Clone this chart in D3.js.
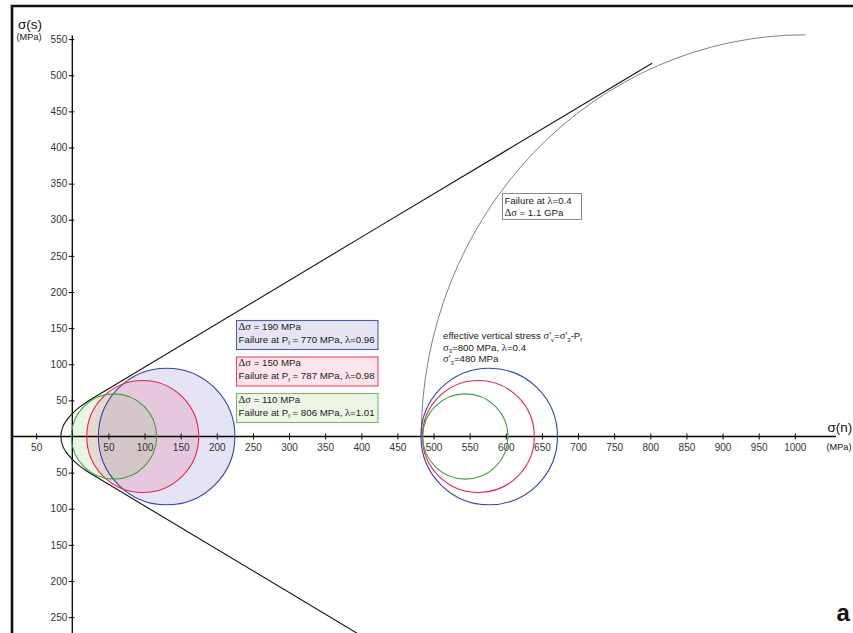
<!DOCTYPE html>
<html>
<head>
<meta charset="utf-8">
<script src="https://cdn.jsdelivr.net/npm/d3@7"></script>
<style>
  body { margin: 0; background: #fff; }
  svg { display: block; font-family: "Liberation Sans", Arial, sans-serif; }
  .greek { font-family: "Liberation Serif", "Times New Roman", serif; }
</style>
</head>
<body>
<div id="chart"></div>
<script>
// Mohr circles (MPa), one entry per stress difference
const deltaSigma = [190, 150, 110];
const failurePf = [770, 787, 806];
const failureLambda = ["0.96", "0.98", "1.01"];
const circleRadius = [94.5, 77.5, 59];
// centres of the circles at failure (left) and at sigma'3 = 480 MPa (right)
const failureCentre = [130.6, 97.5, 57.7];
const effectiveCentre = [577, 562, 544];

// failure envelope: sigma(n), sigma(s) of the upper branch
const envelopeSigma = [-15.9, -13, -8, 0, 10, 20, 28.3, 802.5];
const envelopeTau = [0, 13.6, 22.4, 31.8, 40.6, 47.8, 53.0, 516.6];

// failure circle at lambda = 0.4 (only its upper-left quarter is drawn)
const bigCircleLeft = 483;
const bigCircleCentre = 1015;
const bigCircleTop = 556;

// tick values (labels are shown without sign)
const xTickValues = [-50, 50, 100, 150, 200, 250, 300, 350, 400, 450, 500, 550, 600, 650, 700, 750, 800, 850, 900, 950, 1000];
const yTickValues = [-250, -200, -150, -100, -50, 50, 100, 150, 200, 250, 300, 350, 400, 450, 500, 550];

const strokeColours = ["#3243a6", "#ec2548", "#43a03c"];
const fillColours = ["rgba(95,95,195,0.17)", "rgba(235,40,95,0.15)", "rgba(120,190,90,0.16)"];
const boxFills = ["#e4e4f3", "#fde3ea", "#edf5e6"];
const boxStrokes = ["#4e5db2", "#ea4665", "#7fb46e"];

const width = 853, height = 633;
const originX = 72.3, originY = 436.5, pxPerMPa = 0.7225;

const svg = d3.select("#chart")
    .append("svg")
    .attr("width", width)
    .attr("height", height);

//Equal scales on both axes so the circles stay round
const x = d3.scaleLinear().domain([0, 1000]).range([originX, originX + 1000 * pxPerMPa]);
const y = d3.scaleLinear().domain([0, 500]).range([originY, originY - 500 * pxPerMPa]);
const r = v => v * pxPerMPa;

//Panel frame (only top and left edges are visible)
svg.append("path")
    .attr("d", "M12," + height + "V6H" + width)
    .attr("fill", "none")
    .attr("stroke", "#111")
    .attr("stroke-width", 2.6);

//Circle fills at failure
const idx = d3.range(deltaSigma.length);
svg.selectAll("circle.failFill")
    .data(idx)
    .join("circle")
    .attr("class", "failFill")
    .attr("cx", i => x(failureCentre[i]))
    .attr("cy", y(0))
    .attr("r", i => r(circleRadius[i]))
    .attr("fill", i => fillColours[i])
    .attr("stroke", "none");

//Axes
svg.append("line")
    .attr("x1", 12).attr("x2", 836)
    .attr("y1", y(0)).attr("y2", y(0))
    .attr("stroke", "#000").attr("stroke-width", 1.3);
svg.append("line")
    .attr("x1", x(0)).attr("x2", x(0))
    .attr("y1", y(555)).attr("y2", height)
    .attr("stroke", "#000").attr("stroke-width", 1.3);

const xAxis = svg.append("g")
    .attr("transform", "translate(0," + y(0) + ")")
    .call(d3.axisBottom(x)
        .tickValues(xTickValues)
        .tickFormat(d => Math.abs(d))
        .tickSizeInner(3)
        .tickSizeOuter(0)
        .tickPadding(4));
xAxis.select(".domain").remove();
xAxis.selectAll(".tick line").attr("y1", -3).attr("stroke", "#000");

const yAxis = svg.append("g")
    .attr("transform", "translate(" + x(0) + ",0)")
    .call(d3.axisLeft(y)
        .tickValues(yTickValues)
        .tickFormat(d => Math.abs(d))
        .tickSizeInner(3.5)
        .tickSizeOuter(0)
        .tickPadding(1.5));
yAxis.select(".domain").remove();
yAxis.selectAll(".tick line").attr("x1", 2).attr("stroke", "#000");

svg.selectAll(".tick text")
    .attr("fill", "#333")
    .style("font-family", "'Liberation Sans', Arial, sans-serif")
    .style("font-size", "10px");

//Failure envelope (Griffith cap + straight lines)
const upper = envelopeSigma.map((s, i) => [s, envelopeTau[i]]);
const envelope = upper.slice().reverse().map(p => [p[0], -p[1]]).concat(upper.slice(1));
svg.append("path")
    .datum(envelope)
    .attr("d", d3.line().x(d => x(d[0])).y(d => y(d[1])).curve(d3.curveCatmullRom))
    .attr("fill", "none")
    .attr("stroke", "#111")
    .attr("stroke-width", 1.1);

//Failure circle for lambda = 0.4
svg.append("path")
    .attr("d", "M" + x(bigCircleLeft) + "," + y(0) +
        "A" + (x(bigCircleCentre) - x(bigCircleLeft)) + "," + (y(0) - y(bigCircleTop)) +
        " 0 0 1 " + x(bigCircleCentre) + "," + y(bigCircleTop))
    .attr("fill", "none")
    .attr("stroke", "#808080")
    .attr("stroke-width", 1);

//Circle outlines, at failure and at effective vertical stress
svg.selectAll("circle.failLine")
    .data(idx)
    .join("circle")
    .attr("class", "failLine")
    .attr("cx", i => x(failureCentre[i]))
    .attr("cy", y(0))
    .attr("r", i => r(circleRadius[i]))
    .attr("fill", "none")
    .attr("stroke", i => strokeColours[i])
    .attr("stroke-width", 1.1);

svg.selectAll("circle.effLine")
    .data(idx)
    .join("circle")
    .attr("class", "effLine")
    .attr("cx", i => x(effectiveCentre[i]))
    .attr("cy", y(0))
    .attr("r", i => r(circleRadius[i]))
    .attr("fill", "none")
    .attr("stroke", i => strokeColours[i])
    .attr("stroke-width", 1.1);

//Legend boxes
const boxTop = [320, 356.5, 393];
idx.forEach(i => {
    const g = svg.append("g").attr("transform", "translate(236," + boxTop[i] + ")");
    g.append("rect")
        .attr("x", 0.5).attr("y", 0.5)
        .attr("width", 141.5).attr("height", 29)
        .attr("fill", boxFills[i])
        .attr("stroke", boxStrokes[i])
        .attr("stroke-width", 1.1);
    const t1 = g.append("text").attr("x", 2.6).attr("y", 9.6)
        .attr("font-size", 9.7).attr("fill", "#222");
    t1.append("tspan").attr("class", "greek").attr("font-size", 10.5).text("Δσ");
    t1.append("tspan").text(" = " + deltaSigma[i] + " MPa");
    const t2 = g.append("text").attr("x", 2.6).attr("y", 22.8)
        .attr("font-size", 9.7).attr("fill", "#222");
    t2.append("tspan").text("Failure at P");
    t2.append("tspan").attr("font-size", 6).attr("dy", 2.5).text("f");
    t2.append("tspan").attr("dy", -2.5).text(" = " + failurePf[i] + " MPa, ");
    t2.append("tspan").attr("class", "greek").attr("font-size", 10.5).text("λ");
    t2.append("tspan").text("=" + failureLambda[i]);
});

//Effective stress annotation
const eff = svg.append("g").attr("transform", "translate(443,0)")
    .attr("font-size", 9.7).attr("fill", "#222");
const e1 = eff.append("text").attr("y", 339.3);
e1.append("tspan").text("effective vertical stress ");
e1.append("tspan").attr("class", "greek").attr("font-size", 10.5).text("σ'");
e1.append("tspan").attr("font-size", 6).attr("dy", 2.5).text("v");
e1.append("tspan").attr("dy", -2.5).text("=");
e1.append("tspan").attr("class", "greek").attr("font-size", 10.5).text("σ'");
e1.append("tspan").attr("font-size", 6).attr("dy", 2.5).text("3");
e1.append("tspan").attr("dy", -2.5).text("-P");
e1.append("tspan").attr("font-size", 6).attr("dy", 2.5).text("f");
const e2 = eff.append("text").attr("y", 350.5);
e2.append("tspan").attr("class", "greek").attr("font-size", 10.5).text("σ");
e2.append("tspan").attr("font-size", 6).attr("dy", 2.5).text("3");
e2.append("tspan").attr("dy", -2.5).text("=800 MPa, ");
e2.append("tspan").attr("class", "greek").attr("font-size", 10.5).text("λ");
e2.append("tspan").text("=0.4");
const e3 = eff.append("text").attr("y", 362);
e3.append("tspan").attr("class", "greek").attr("font-size", 10.5).text("σ'");
e3.append("tspan").attr("font-size", 6).attr("dy", 2.5).text("3");
e3.append("tspan").attr("dy", -2.5).text("=480 MPa");

//Box for the lambda = 0.4 failure circle
const fb = svg.append("g").attr("transform", "translate(502,193)");
fb.append("rect")
    .attr("x", 0.5).attr("y", 0.5)
    .attr("width", 79).attr("height", 26)
    .attr("fill", "#fff")
    .attr("stroke", "#888")
    .attr("stroke-width", 1);
const f1 = fb.append("text").attr("x", 2.4).attr("y", 11).attr("font-size", 9.7).attr("fill", "#222");
f1.append("tspan").text("Failure at ");
f1.append("tspan").attr("class", "greek").attr("font-size", 10.5).text("λ");
f1.append("tspan").text("=0.4");
const f2 = fb.append("text").attr("x", 2.4).attr("y", 22.5).attr("font-size", 9.7).attr("fill", "#222");
f2.append("tspan").attr("class", "greek").attr("font-size", 10.5).text("Δσ");
f2.append("tspan").text(" = 1.1 GPa");

//Axis titles
svg.append("text").attr("x", 18).attr("y", 28.5)
    .attr("font-size", 13.5).attr("fill", "#111").text("σ(s)");
svg.append("text").attr("x", 16.5).attr("y", 40)
    .attr("font-size", 9.2).attr("fill", "#111").text("(MPa)");
svg.append("text").attr("x", 827.5).attr("y", 432)
    .attr("font-size", 13.5).attr("fill", "#111").text("σ(n)");
svg.append("text").attr("x", 826.5).attr("y", 449.5)
    .attr("font-size", 9.2).attr("fill", "#111").text("(MPa)");

//Panel letter
svg.append("text").attr("x", 836.5).attr("y", 621)
    .attr("font-size", 24).attr("font-weight", "bold").attr("fill", "#111").text("a");
</script>
</body>
</html>
